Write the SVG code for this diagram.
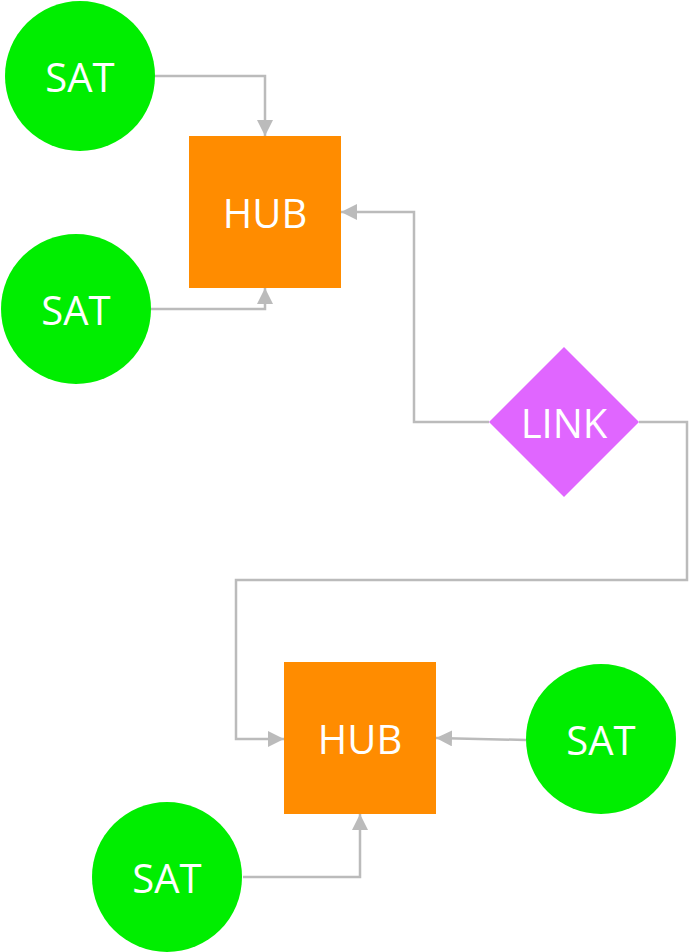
<svg xmlns="http://www.w3.org/2000/svg" width="690" height="952" viewBox="0 0 690 952">
<defs>
<style>
.sat{fill:#00ee00}
.hub{fill:#ff8c00}
.link{fill:#e066ff}
.lbl{fill:#ffffff;font-family:"Open Sans","DejaVu Sans",sans-serif;font-size:40px;text-anchor:middle}
.edge{fill:none;stroke:#bbbbbb;stroke-width:2.5;marker-end:url(#arr)}
</style>
<marker id="arr" markerUnits="userSpaceOnUse" markerWidth="16" markerHeight="16" viewBox="0 0 16 16" refX="16" refY="8" orient="auto">
<path d="M0,0 L16,8 L0,16 z" fill="#bbbbbb"/>
</marker>
</defs>
<rect width="690" height="952" fill="#ffffff"/>
<g id="connectors">
<path class="edge" d="M155,76 H265 V136"/>
<path class="edge" d="M151,309 H265 V288"/>
<path class="edge" d="M489,422 H414 V212 H341"/>
<path class="edge" d="M639,422 H687 V580 H236 V739 H284"/>
<path class="edge" d="M526,740 L436,738"/>
<path class="edge" d="M243,877 H360 V814"/>
</g>
<g id="sat1"><circle class="sat" cx="80" cy="76" r="75"/><text class="lbl" x="80" y="92">SAT</text></g>
<g id="sat2"><circle class="sat" cx="76" cy="309" r="75"/><text class="lbl" x="76" y="325">SAT</text></g>
<g id="hub1"><rect class="hub" x="189" y="136" width="152" height="152"/><text class="lbl" x="265" y="228">HUB</text></g>
<g id="link"><polygon class="link" points="564,347 639,422 564,497 489,422"/><text class="lbl" x="564" y="438">LINK</text></g>
<g id="hub2"><rect class="hub" x="284" y="662" width="152" height="152"/><text class="lbl" x="360" y="754">HUB</text></g>
<g id="sat3"><circle class="sat" cx="601" cy="739" r="75"/><text class="lbl" x="601" y="755">SAT</text></g>
<g id="sat4"><circle class="sat" cx="167" cy="877" r="75"/><text class="lbl" x="167" y="893">SAT</text></g>
</svg>
